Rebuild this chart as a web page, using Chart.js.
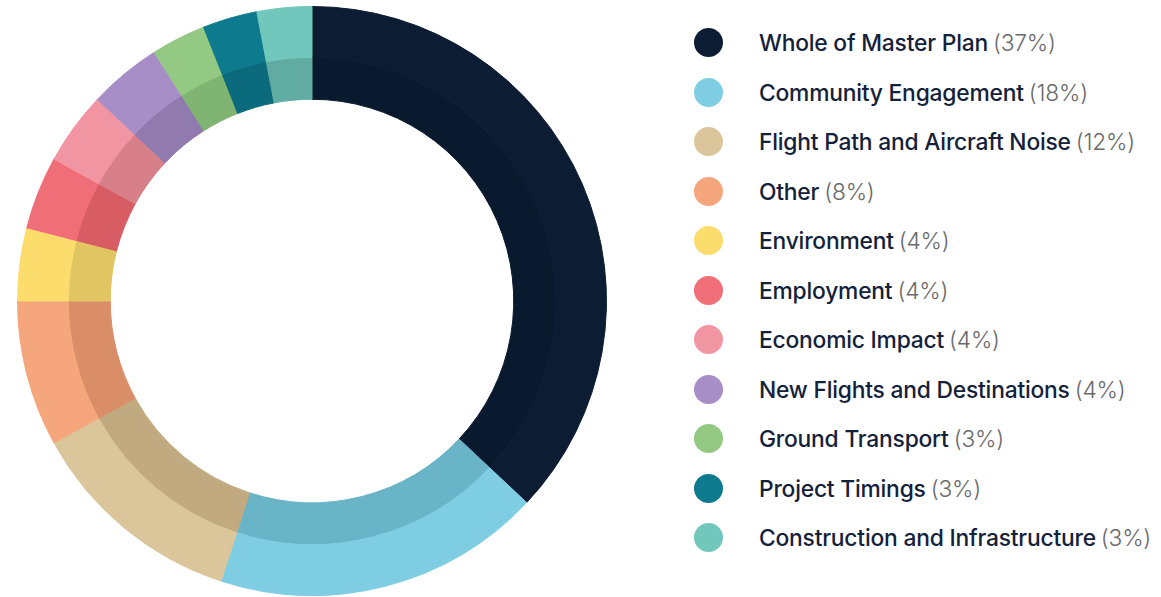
<!DOCTYPE html>
<html>
<head>
<meta charset="utf-8">
<script src="https://cdn.jsdelivr.net/npm/chart.js@4/dist/chart.umd.min.js"></script>
<style>
  html, body { margin: 0; padding: 0; background: #ffffff; }
  body { width: 1161px; height: 597px; position: relative; overflow: hidden; font-family: Inter, "Open Sans", sans-serif; }
  #wrap { position: absolute; left: 17px; top: 6px; width: 590px; height: 590px; }
  #legend { position: absolute; left: 694px; top: 18px; margin: 0; padding: 0; list-style: none; }
  #legend li { height: 49.5px; display: flex; align-items: center; white-space: nowrap; }
  #legend .dot { width: 29px; height: 29px; border-radius: 50%; flex: none; margin-right: 36px; }
  #legend .lab { font-size: 22.8px; font-weight: 500; color: #14213a; letter-spacing: -0.2px; }
  #legend .pct { font-size: 22.8px; font-weight: 300; color: #6a6a6a; margin-left: 5px; letter-spacing: -0.2px; }
</style>
</head>
<body>
<div id="wrap"><canvas id="c"></canvas></div>
<ul id="legend"></ul>
<script>
const categories = [
  "Whole of Master Plan",
  "Community Engagement",
  "Flight Path and Aircraft Noise",
  "Other",
  "Environment",
  "Employment",
  "Economic Impact",
  "New Flights and Destinations",
  "Ground Transport",
  "Project Timings",
  "Construction and Infrastructure"
];
const shares = [37, 18, 12, 8, 4, 4, 4, 4, 3, 3, 3];
const outerColors = ["#0c1d33", "#7ecde3", "#dbc59a", "#f6a67d", "#fddc6e", "#f06e78", "#f295a2", "#a78ec7", "#93c982", "#0e7a8e", "#72c7bc"];
const innerColors = ["#0a1a2e", "#69b4c6", "#c1aa80", "#da8e68", "#e2c563", "#d75c64", "#d7808a", "#917aae", "#80b472", "#0b6a7b", "#61aca2"];

const legend = document.getElementById('legend');
categories.forEach((name, i) => {
  const li = document.createElement('li');
  li.innerHTML = '<span class="dot" style="background:' + outerColors[i] + '"></span>' +
                 '<span class="lab">' + name + '</span><span class="pct">(' + shares[i] + '%)</span>';
  legend.appendChild(li);
});

new Chart(document.getElementById('c'), {
  type: 'doughnut',
  data: {
    labels: categories,
    datasets: [
      { data: shares, backgroundColor: outerColors, borderColor: outerColors, borderWidth: 1, weight: 51 },
      { data: shares, backgroundColor: innerColors, borderColor: innerColors, borderWidth: 1, weight: 42 }
    ]
  },
  options: {
    responsive: true,
    maintainAspectRatio: false,
    animation: false,
    cutout: '68.5%',
    layout: { padding: 0 },
    plugins: { legend: { display: false }, tooltip: { enabled: false } }
  }
});
</script>
</body>
</html>
